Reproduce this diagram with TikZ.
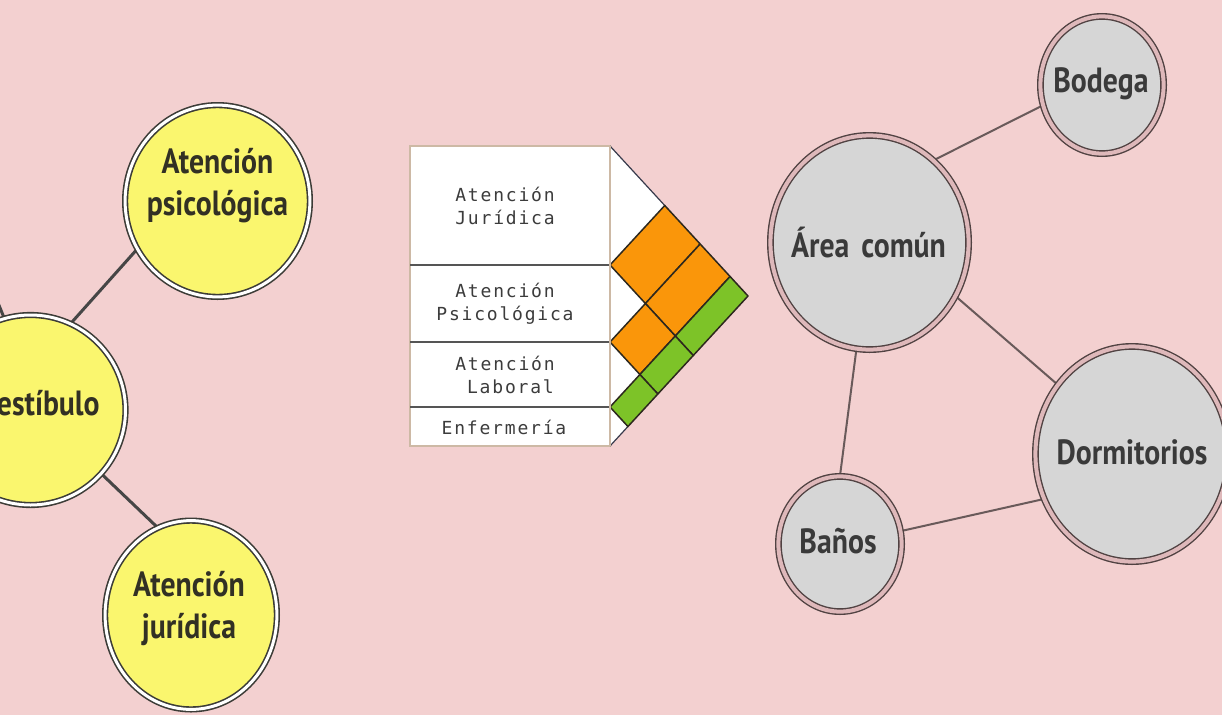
\documentclass[tikz,border=0pt]{standalone}
\usepackage{fontspec}
\setmainfont{PT Sans}
\newfontfamily\circfont{PT Sans}[FakeStretch=0.85]
\newfontfamily\tabfont{DejaVu Sans Mono}[LetterSpace=10]
\usetikzlibrary{shapes.geometric}
\pgfdeclarelayer{background}
\pgfsetlayers{background,main}

\definecolor{bg}{RGB}{243,208,208}
\definecolor{yel}{RGB}{250,246,110}
\definecolor{gryfill}{RGB}{214,214,214}
\definecolor{ringY}{RGB}{60,60,55}
\definecolor{ringG}{RGB}{80,66,66}
\definecolor{ringgap}{RGB}{222,184,186}
\definecolor{txtY}{RGB}{50,48,36}
\definecolor{txtG}{RGB}{58,58,58}
\definecolor{orng}{RGB}{250,150,10}
\definecolor{grn}{RGB}{125,195,40}
\definecolor{tanline}{RGB}{205,185,165}
\definecolor{sepline}{RGB}{85,85,85}
\definecolor{celledge}{RGB}{45,40,30}
\definecolor{outeredge}{RGB}{55,58,75}
\definecolor{linkdark}{RGB}{70,70,70}
\definecolor{linkgray}{RGB}{105,90,90}
\definecolor{tabtext}{RGB}{60,60,60}

\tikzset{
  ybub/.style={ellipse, fill=yel, draw=ringY, line width=1.6pt, double=white, double distance=3pt, inner sep=0pt},
  gbub/.style={ellipse, fill=gryfill, draw=ringG, line width=1.4pt, double=ringgap, double distance=4pt, inner sep=0pt},
  ylab/.style={font=\circfont\bfseries\fontsize{35}{42}\selectfont, text=txtY, align=center, inner sep=0pt},
  glab/.style={font=\circfont\bfseries\fontsize{35}{42}\selectfont, text=txtG, align=center, inner sep=0pt},
  linkL/.style={draw=linkdark, line width=3pt},
  linkR/.style={draw=linkgray, line width=2pt},
  tabtxt/.style={font=\tabfont\fontsize{18}{23}\selectfont, text=tabtext, align=center, inner sep=0pt},
  sep/.style={draw=sepline, line width=2pt},
  orcell/.style={fill=orng, draw=celledge, line width=1.5pt, line join=round},
  grcell/.style={fill=grn, draw=celledge, line width=1.5pt, line join=round},
  outer/.style={draw=outeredge, line width=1.2pt}
}

\begin{document}
\begin{tikzpicture}[x=1pt, y=-1pt]
\useasboundingbox (0,0) rectangle (1222,715);
\clip (0,0) rectangle (1222,715);

% ---------- left bubbles ----------
\node[ybub, minimum width=184.8pt, minimum height=191.8pt,
      label={[ylab, name=psicoT, yshift=15pt]center:Atención\\psicológica}] (psico) at (217.5,201) {};
\node[ybub, minimum width=190pt, minimum height=190pt,
      label={[ylab, name=vestT, yshift=7pt, xshift=10pt]center:Vestíbulo}] (vest) at (30.5,410) {};
\node[ybub, minimum width=171.8pt, minimum height=188.8pt,
      label={[ylab, name=jurT, yshift=6pt, xshift=-2pt]center:Atención\\jurídica}] (jur) at (191,615) {};
\coordinate (offL) at (-8,288);

% ---------- right bubbles ----------
\node[gbub, minimum width=198.2pt, minimum height=214.2pt,
      label={[glab, name=areaT, xshift=-1pt]center:Área\hspace{12pt}común}] (area) at (869.5,242.5) {};
\node[gbub, minimum width=123.2pt, minimum height=137.2pt,
      label={[glab, name=bodT, yshift=1pt, xshift=-1pt]center:Bodega}] (bod) at (1102,85) {};
\node[gbub, minimum width=193.2pt, minimum height=215.2pt,
      label={[glab, name=dormT, yshift=2pt]center:Dormitorios}] (dorm) at (1132,454) {};
\node[gbub, minimum width=123.2pt, minimum height=135.2pt,
      label={[glab, name=banT, yshift=3pt, xshift=-2pt]center:Baños}] (ban) at (840,544) {};

% ---------- connectors (behind bubbles) ----------
\begin{pgfonlayer}{background}
  \fill[bg] (0,0) rectangle (1222,715);
  \draw[linkL] (vest.65) -- (psico.211.7);
  \draw[linkL] (vest.-42) -- (jur.111);
  \draw[linkL] (vest.106.5) -- (offL);
  \draw[linkR] (area.52) -- (bod.199.5);
  \draw[linkR] (area.-32) -- (dorm.137.7);
  \draw[linkR] (area.-97.3) -- (ban.90);
  \draw[linkR] (ban.12.5) -- (dorm.207.5);
\end{pgfonlayer}

% ---------- table ----------
\draw[draw=tanline, line width=1.2pt, fill=white] (410,146) rectangle (610,446);
\draw[sep] (410,265) -- (610,265);
\draw[sep] (410,342) -- (610,342);
\draw[sep] (410,407) -- (610,407);
\node[tabtxt] (tJur) at (505,205.5) {Atención\\Jurídica};
\node[tabtxt] (tPsi) at (505,303.5) {Atención\\Psicológica};
\node[tabtxt] (tLab) at (505,374.5) {Atención\\\hphantom{L}Laboral};
\node[tabtxt] (tEnf) at (504,427) {Enfermería};

% ---------- relation triangle ----------
\coordinate (p00) at (610,146);
\coordinate (p11) at (610,265);
\coordinate (p22) at (610,342);
\coordinate (p33) at (610,407);
\coordinate (p44) at (610,446);
\coordinate (p01) at (664.74,205.5);
\coordinate (p02) at (700.16,244);
\coordinate (p03) at (730.06,276.5);
\coordinate (p04) at (748,296);
\coordinate (p12) at (645.42,303.5);
\coordinate (p13) at (675.32,336);
\coordinate (p14) at (693.26,355.5);
\coordinate (p23) at (639.9,374.5);
\coordinate (p24) at (657.84,394);
\coordinate (p34) at (627.94,426.5);

\fill[white] (p00) -- (p04) -- (p44) -- cycle;
\draw[outer] (p00) -- (p01);
\draw[outer] (p34) -- (p44);
\draw[orcell] (p01) -- (p11) -- (p12) -- (p02) -- cycle;
\draw[orcell] (p02) -- (p12) -- (p13) -- (p03) -- cycle;
\draw[orcell] (p12) -- (p22) -- (p23) -- (p13) -- cycle;
\draw[grcell] (p03) -- (p13) -- (p14) -- (p04) -- cycle;
\draw[grcell] (p13) -- (p23) -- (p24) -- (p14) -- cycle;
\draw[grcell] (p23) -- (p33) -- (p34) -- (p24) -- cycle;
\draw[draw=tanline, line width=1.2pt] (610,146) -- (610,446);
\end{tikzpicture}
\end{document}
